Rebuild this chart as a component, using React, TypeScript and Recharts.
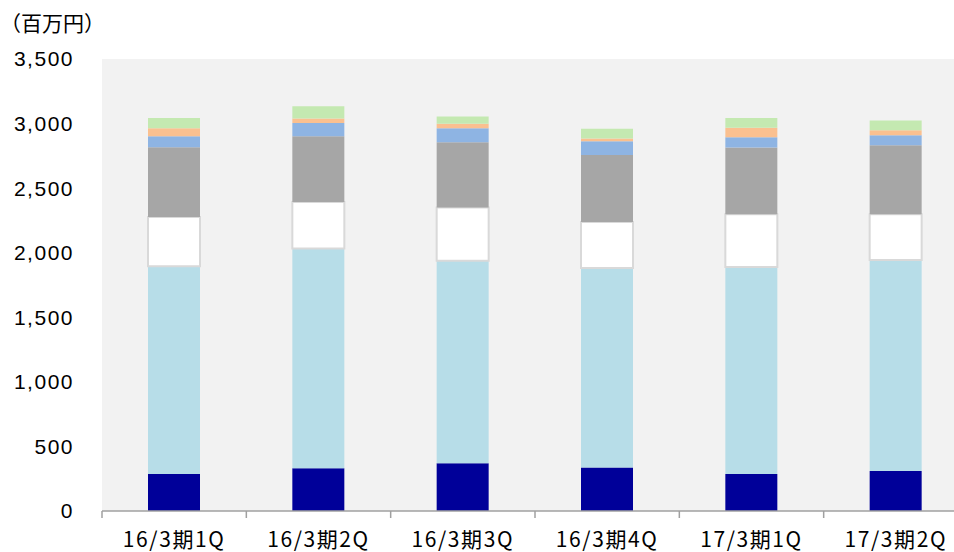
import { BarChart, Bar, XAxis, YAxis, CartesianGrid } from "recharts";

const categories = ["16/3期1Q", "16/3期2Q", "16/3期3Q", "16/3期4Q", "17/3期1Q", "17/3期2Q"];

// stacked from bottom to top
const navy = [287, 331, 370, 336, 287, 310];
const lightBlue = [1608, 1702, 1568, 1545, 1602, 1633];
const white = [382, 360, 413, 357, 408, 354];
const gray = [539, 509, 504, 519, 517, 535];
const blue = [86, 103, 109, 106, 80, 77];
const orange = [62, 34, 34, 21, 73, 39];
const green = [80, 95, 56, 75, 77, 75];

const yTicks = [0, 500, 1000, 1500, 2000, 2500, 3000, 3500];
// category boundaries for the small tick marks under the axis
const frameTicks = [0, 1, 2, 3, 4, 5, 6];

const data = categories.map((name, i) => ({
  name,
  pos: i + 0.5,
  navy: navy[i],
  lightBlue: lightBlue[i],
  white: white[i],
  gray: gray[i],
  blue: blue[i],
  orange: orange[i],
  green: green[i],
}));

const fmt = (v: number) => v.toLocaleString("en-US");

export default function App() {
  return (
    <div
      style={{
        position: "absolute",
        left: 0,
        top: 0,
        width: 954,
        height: 552,
        overflow: "hidden",
        background: "#ffffff",
      }}
    >
      <div
        style={{
          position: "absolute",
          left: 0,
          top: 9,
          fontFamily: "'Noto Sans CJK JP', sans-serif",
          fontSize: 21,
          color: "#000",
          lineHeight: "26px",
        }}
      >
        （百万円）
      </div>
      <BarChart
        width={980}
        height={552}
        data={data}
        margin={{ top: 59, right: 12, bottom: 0, left: 12 }}
        barSize={52}
      >
        <CartesianGrid horizontal={false} vertical={false} fill="#f2f2f2" />
        <XAxis
          type="number"
          dataKey="pos"
          domain={[0, 6]}
          allowDataOverflow
          ticks={frameTicks}
          interval={0}
          height={8}
          tickSize={7}
          tickFormatter={() => ""}
          axisLine={{ stroke: "#a0a0a0", strokeWidth: 1.5 }}
          tickLine={{ stroke: "#a0a0a0", strokeWidth: 1.5 }}
        />
        <XAxis
          xAxisId="cat"
          dataKey="name"
          height={33}
          axisLine={false}
          tickLine={false}
          tickSize={8}
          tickMargin={5}
          interval={0}
          tick={{ fill: "#000", fontSize: 21, letterSpacing: 1.6, fontFamily: "'Noto Sans CJK JP', sans-serif" }}
        />
        <YAxis
          width={90}
          domain={[0, 3500]}
          ticks={yTicks}
          axisLine={false}
          tickLine={false}
          tickSize={8}
          tickMargin={20}
          tickFormatter={fmt}
          tick={{ fill: "#000", fontSize: 21, fontFamily: "'Liberation Sans', Arial, sans-serif", letterSpacing: 1.5 }}
        />
        <Bar xAxisId="cat" dataKey="navy" stackId="a" fill="#000099" isAnimationActive={false} />
        <Bar xAxisId="cat" dataKey="lightBlue" stackId="a" fill="#b7dde8" isAnimationActive={false} />
        <Bar xAxisId="cat" dataKey="white" stackId="a" fill="#ffffff" stroke="#d9d9d9" strokeWidth={2} isAnimationActive={false} />
        <Bar xAxisId="cat" dataKey="gray" stackId="a" fill="#a6a6a6" isAnimationActive={false} />
        <Bar xAxisId="cat" dataKey="blue" stackId="a" fill="#8eb4e3" isAnimationActive={false} />
        <Bar xAxisId="cat" dataKey="orange" stackId="a" fill="#fac090" isAnimationActive={false} />
        <Bar xAxisId="cat" dataKey="green" stackId="a" fill="#c4e9b1" isAnimationActive={false} />
      </BarChart>
    </div>
  );
}
